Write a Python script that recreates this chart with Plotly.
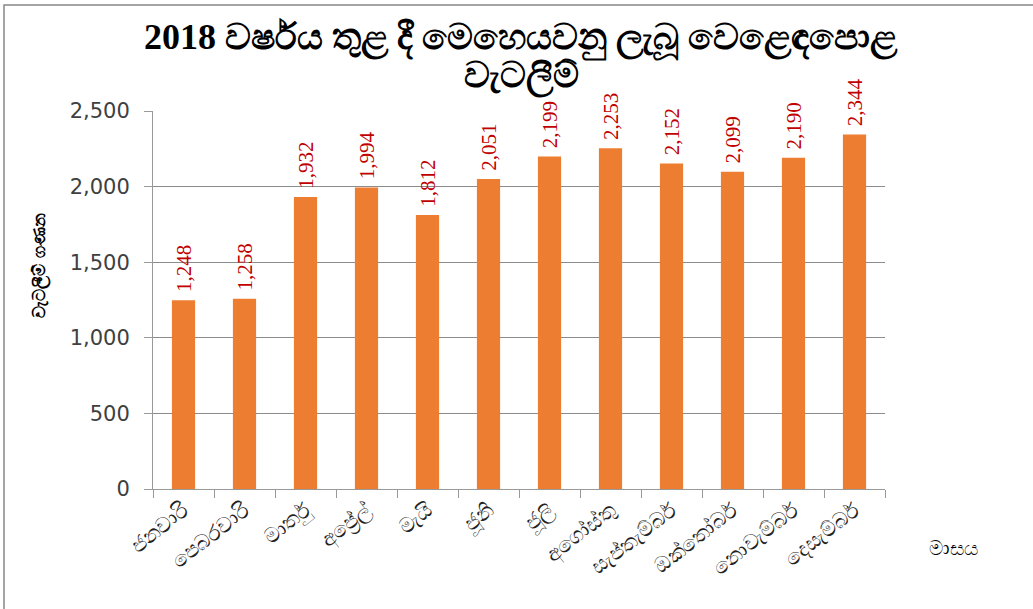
import plotly.graph_objects as go

months = ["ජනවාරි", "පෙබරවාරි", "මාර්තු", "අප්‍රේල්", "මැයි", "ජූනි",
          "ජූලි", "අගෝස්තු", "සැප්තැම්බර්", "ඔක්තෝබර්", "නොවැම්බර්", "දෙසැම්බර්"]
raids = [1248, 1258, 1932, 1994, 1812, 2051, 2199, 2253, 2152, 2099, 2190, 2344]
y_ticks = [0, 500, 1000, 1500, 2000, 2500]

title_line1 = "2018 වර්ෂය තුළ දී මෙහෙයවනු ලැබූ වෙළෙඳපොළ"
title_line2 = "වැටලීම්"
y_title = "වැටලීම් ගණන"
x_title = "මාසය"

W, H = 1033, 609
L, R, T, B = 153, 148, 111, 120
plot_w = W - L - R
plot_h = H - T - B


def px_x(p):
    return (p - L) / plot_w


def px_y(p):
    return (H - B - p) / plot_h


fig = go.Figure(go.Bar(
    x=months, y=raids,
    marker=dict(color="#ED7D31", line=dict(width=0)),
    text=["\u00a0" + f"{v:,}" for v in raids],
    textposition="outside",
    textangle=-90,
    constraintext="none",
    cliponaxis=False,
    textfont=dict(family="Liberation Serif, Times New Roman, serif", size=21, color="#C00000"),
))

fig.update_layout(
    width=W, height=H,
    paper_bgcolor="white", plot_bgcolor="white",
    margin=dict(l=L, r=R, t=T, b=B, autoexpand=False),
    bargap=0.62,
    showlegend=False,
    font=dict(family="DejaVu Sans, Verdana, sans-serif", color="#404040"),
    xaxis=dict(
        tickangle=-38, tickfont=dict(size=21, color="#222"),
        showline=True, linecolor="#999", linewidth=1,
        ticks="outside", tickson="boundaries", ticklen=8, tickcolor="#999",
        showgrid=False, automargin=False,
    ),
    yaxis=dict(
        range=[0, 2500], tickvals=y_ticks, tickformat=",",
        tickfont=dict(size=21, color="#404040"),
        showline=True, linecolor="#999", linewidth=1,
        ticks="outside", ticklen=8, tickcolor="#999", ticklabelstandoff=10,
        showgrid=True, gridcolor="#8c8c8c", gridwidth=1,
        zeroline=False, automargin=False,
    ),
    annotations=[
        dict(text="<b>" + title_line1 + "</b>", x=px_x(521), y=px_y(39), xref="paper", yref="paper",
             showarrow=False, xanchor="center", yanchor="middle",
             font=dict(family="Liberation Serif, Times New Roman, serif", size=36, color="black")),
        dict(text="<b>" + title_line2 + "</b>", x=px_x(521), y=px_y(77), xref="paper", yref="paper",
             showarrow=False, xanchor="center", yanchor="middle",
             font=dict(family="Liberation Serif, Times New Roman, serif", size=36, color="black")),
        dict(text="<b>" + y_title + "</b>", x=px_x(40), y=px_y(266), xref="paper", yref="paper",
             showarrow=False, textangle=-90, xanchor="center", yanchor="middle",
             font=dict(size=17, color="black")),
        dict(text=x_title, x=px_x(953), y=px_y(548), xref="paper", yref="paper",
             showarrow=False, xanchor="center", yanchor="middle",
             font=dict(size=20, color="black")),
    ],
    shapes=[dict(type="rect", xref="paper", yref="paper",
                 x0=px_x(4), x1=px_x(1045), y0=px_y(620), y1=px_y(5),
                 line=dict(color="#888", width=1.5))],
)

fig.write_html("out.html", config={"displayModeBar": False},
               post_script="document.body.style.margin='0';document.body.style.padding='0';")
